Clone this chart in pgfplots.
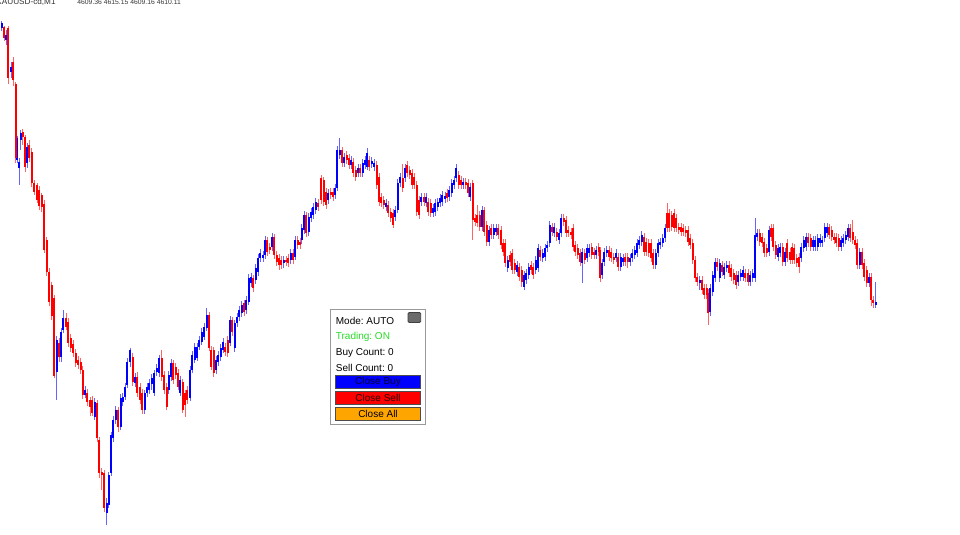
\documentclass[border=0pt]{standalone}
\usepackage{pgfplots}
\pgfplotsset{compat=1.18}
\usepackage{pgfplotstable}
\usepackage{fontspec}
\setmainfont{Liberation Sans}
\frenchspacing
\definecolor{bull}{RGB}{0,0,255}
\definecolor{bear}{RGB}{255,0,0}
\definecolor{bullw}{RGB}{100,100,255}
\definecolor{bearw}{RGB}{255,100,100}
\definecolor{ongreen}{RGB}{40,220,40}
\definecolor{btnorange}{RGB}{255,165,0}

% pixel-row prices (y grows downwards): x o h l c
\pgfplotstableread{
x o h l c
1.7 28 21 31 23
6 40 30 45 35
11 72 62 78 67
17.3 160 136 163 138
19 168 158 185 162
20.7 140 130 150 133
27.3 163 143 168 147
56.7 372 336 400 340
61 357 328 362 332
63.3 330 310 333 318
85 395 386 398 390
94.7 417 398 420 402
106.7 513 498 525 503
108.7 505 472 508 475
111 473 432 476 435
113.3 438 416 442 420
115.7 420 406 424 410
120.7 427 394 430 398
122.7 402 393 406 397
125 397 383 400 387
127.3 385 358 388 362
130 362 348 367 350
135 383 373 387 377
144.7 410 390 414 393
147 393 383 397 387
149.3 390 379 394 383
151.7 384 374 390 378
154 393 370 396 373
156.7 372 364 376 368
159 373 355 377 358
168.7 390 371 394 375
171 377 359 381 363
180.3 393 376 396 380
190 398 366 401 370
192.3 370 351 373 355
194.7 360 343 363 347
197 358 343 361 347
199.3 347 336 350 340
201.7 342 328 345 332
204 337 323 340 327
206.7 328 308 331 315
216 370 356 374 360
218.3 362 351 366 355
220.7 357 344 361 348
223 350 338 353 342
230 343 316 346 320
234.7 348 320 352 323
237 323 313 327 317
239.3 317 306 321 310
241.7 313 301 317 305
246.3 310 296 314 300
248.7 302 274 305 278
251 283 273 287 277
255.7 280 264 284 268
258 272 254 276 258
260.3 258 249 262 253
263 258 251 262 255
265 255 236 259 240
272 247 233 251 237
283.7 263 256 268 260
290.7 260 249 264 253
295.3 257 236 260 240
301.7 240 224 244 228
304 230 211 234 215
308.7 232 213 236 217
311 218 208 222 212
313.3 215 203 219 207
315.7 210 198 214 202
328.3 200 189 204 193
335.3 195 184 199 188
337.3 188 146 191 150
339.7 155 138 159 150
344.3 163 153 167 157
351 165 156 169 160
358 173 164 177 168
362.7 173 159 177 163
365 165 156 169 160
367.3 167 148 170 153
371.7 164 157 168 161
374 167 159 171 163
386 207 199 211 203
395.3 217 206 221 210
397.7 210 179 213 183
400 183 173 187 177
405 178 164 182 168
421.3 202 193 206 197
426 203 193 207 197
433 213 204 217 208
435.3 212 199 216 203
437.7 207 198 211 202
440 203 194 207 198
442.3 202 191 206 195
445 199 192 203 196
449.3 197 186 201 190
451.7 193 179 197 183
454 185 176 189 180
456.3 178 164 182 168
463.3 185 178 189 182
470.3 197 183 201 187
482 227 206 231 210
489 242 226 246 230
493.7 235 224 239 228
496 232 224 236 228
507.7 268 256 272 260
517 272 261 276 265
524 287 271 290 275
526.3 280 269 284 273
528.7 275 263 279 267
535.7 270 256 274 260
538 268 244 272 248
542.7 258 249 262 253
545 257 244 261 248
547.3 248 241 252 245
549.7 243 221 247 225
554.3 233 223 237 227
559 240 229 244 233
561.3 233 214 237 218
582.3 263 248 283 252
587 258 244 262 248
589.3 253 244 257 248
596.3 255 246 259 250
602 275 259 279 263
604.3 262 248 266 252
606.7 253 246 257 250
616 258 249 262 253
620.7 267 253 271 257
623 262 254 266 258
630 262 254 266 258
632.3 258 249 262 253
634.7 255 246 259 250
637 253 239 257 243
639.3 245 236 249 240
641.7 242 231 246 235
655.7 265 249 269 253
658 253 239 257 243
660.3 245 238 249 242
662.7 243 234 247 238
665 238 224 242 228
699.7 283 276 290 280
710.3 312 284 316 288
712.7 292 271 296 275
715 278 258 282 262
719.7 278 259 282 263
724.3 275 263 279 267
726.7 268 261 272 265
738.3 282 271 286 275
740.7 277 269 281 273
743 277 266 281 270
750.3 282 271 286 275
752.7 278 269 282 273
755 278 218 282 235
757.3 237 229 241 233
769 252 226 256 230
778 257 244 261 248
780.3 253 243 257 247
785 262 248 266 252
801.3 258 243 262 247
803.7 248 236 252 240
806 247 233 251 237
813 247 236 251 240
815.3 247 236 251 240
817.7 247 234 251 238
820 243 234 247 238
822.3 243 236 247 240
824.7 238 223 242 227
827 233 223 237 227
841 247 236 251 240
843.3 243 234 247 238
845.7 240 231 244 235
848 237 224 241 228
859.7 265 248 269 252
869 283 273 287 277
875.7 305 282 308 302
}\bulltab

\pgfplotstableread{
x o h l c
4 27 26 41 38
8.3 28 26 84 78
13.3 62 57 86 80
15.7 84 82 163 158
22.7 132 129 145 137
25 137 135 172 167
29.3 145 140 162 158
31.7 152 148 187 183
34.3 183 180 195 192
37.3 185 183 203 200
39.3 190 186 210 206
41.7 195 193 212 207
44 204 200 253 250
46.7 240 237 276 272
49 272 268 306 302
51.7 285 282 320 316
54 298 295 378 376
59 343 338 362 357
66 318 313 330 327
68.3 322 318 347 343
70.7 338 334 352 348
73.3 344 340 357 353
75.7 353 349 367 363
78.3 360 356 369 365
80.7 362 358 374 370
82.7 370 366 399 395
87.3 393 389 406 402
90 400 397 416 407
92.3 400 396 416 413
97 403 400 442 438
99.3 440 437 478 473
101.7 472 468 490 475
104 473 470 512 508
118.3 410 407 432 427
132.7 357 353 386 382
137.3 377 372 397 393
140 387 383 404 400
142.3 393 389 414 410
161.7 358 350 381 377
164 375 371 394 390
166.7 387 383 410 407
173.3 363 360 384 380
175.7 367 363 379 375
178 373 369 390 387
182.7 382 379 413 410
185 393 390 417 405
187.3 390 386 404 400
209 315 312 351 348
211.3 350 346 370 367
213.7 350 347 377 373
225.3 347 343 356 352
227.7 340 336 357 353
232.3 320 317 336 332
244 303 300 316 312
253.3 278 275 292 288
267.3 240 237 256 252
269.7 247 243 254 250
274.3 237 234 259 255
276.7 255 251 266 262
279 258 254 270 265
281.3 260 256 269 265
286 260 256 266 262
288.3 258 254 267 263
293 253 249 264 260
297.7 240 236 249 245
300 242 238 249 245
306.3 215 212 237 233
318 203 199 211 207
321.3 178 175 204 200
323.7 180 177 206 202
326 192 188 209 205
330.7 192 188 199 195
333 192 188 201 197
342 150 147 167 163
346.7 155 151 164 160
349 158 154 169 165
353.3 162 158 177 173
355.7 170 166 181 177
360.3 168 164 177 173
369.3 160 156 171 167
376.7 165 161 189 185
379 177 173 206 202
381.3 197 193 207 203
383.7 200 196 209 205
388.3 205 201 217 213
390.7 212 208 222 218
393 213 209 228 225
402.7 178 164 192 188
407.3 165 161 177 173
409.7 170 166 179 175
412 173 169 189 185
414.3 177 173 189 185
416.7 185 181 216 212
419 200 196 219 215
424 197 193 206 202
428.3 202 198 216 212
430.7 203 199 217 213
447 193 189 202 198
458.7 175 171 189 185
461 180 176 189 185
465.7 182 178 189 185
468 183 179 197 193
472.7 183 180 240 220
475 218 214 226 222
477.3 215 205 227 223
479.7 215 211 231 227
484.3 210 207 236 232
486.7 225 221 246 242
491.3 228 224 239 235
498.3 228 224 239 235
501 230 226 249 245
503 243 239 256 252
505.3 243 239 267 263
510 255 251 266 262
512.3 253 249 274 270
514.7 263 259 274 270
519.3 267 263 281 277
521.7 270 266 287 282
531 265 261 274 270
533.3 267 263 279 275
540.3 250 246 261 257
552 227 223 236 232
556.7 232 228 241 237
563.7 218 214 226 222
566 220 216 237 233
568.3 230 226 237 233
571 232 228 239 235
573 228 224 251 247
575.3 245 241 256 252
577.7 248 244 259 255
580 253 249 266 262
584.7 253 249 264 260
591.7 247 243 259 255
594 252 248 259 255
598.7 247 243 256 252
600 250 247 282 278
609 250 246 261 257
611.3 252 248 262 258
613.7 257 253 264 260
618.3 257 253 271 267
625.3 257 253 266 262
627.7 257 253 268 262
644 237 233 256 252
646.3 242 238 256 252
648.7 243 239 257 253
651 243 239 262 258
653.3 253 249 269 265
667 213 203 232 228
669.3 213 209 232 228
671.7 215 211 231 227
674 213 209 232 228
676.3 218 214 232 228
678.7 227 223 234 230
681 227 223 236 232
683.3 228 224 236 232
685.7 230 226 237 233
688 230 226 246 242
690.3 238 234 249 245
692.7 243 239 264 260
695 260 256 282 278
697.3 277 273 286 282
702 280 276 294 290
704.3 288 284 299 295
706.7 288 284 299 295
708.3 293 289 325 313
717.3 262 258 271 267
722 265 261 276 272
729 265 261 277 273
731.3 268 264 281 277
733.7 273 269 284 280
736 275 271 289 285
745.3 273 269 282 278
748 273 269 286 282
759.7 233 229 246 242
762 237 233 247 243
764.3 242 238 257 253
766.7 248 244 257 253
771.3 228 224 241 237
773.3 228 224 251 247
775.7 245 241 259 255
782.7 247 243 266 262
787.3 243 239 262 258
790 252 248 264 260
792 247 243 264 260
794.3 248 244 264 260
796.7 258 254 267 263
799 257 253 273 267
808.3 237 233 247 243
810.7 238 234 251 247
829.3 227 224 239 235
831.7 230 226 241 237
834 237 233 244 240
836.3 237 233 247 243
838.7 238 234 251 247
850.3 228 224 242 238
852.7 232 220 244 240
855 240 236 249 245
857.3 243 239 269 265
862 252 248 269 265
864.3 263 259 281 277
866.7 270 266 287 283
871.3 277 273 306 300
873.3 300 296 308 303
}\beartab

\pgfplotsset{
  candle/.style 2 args={draw=none, mark=none, forget plot,
    error bars/.cd, y dir=both, y explicit, error mark=none,
    error bar style={line width=#1, draw=#2}},
}

\begin{document}
\begin{tikzpicture}
\begin{axis}[at={(0,0)}, anchor=south west, scale only axis,
  width=480pt, height=267.5pt,
  xmin=0, xmax=960, ymin=0, ymax=535, y dir=reverse,
  hide axis, clip=false]
% wicks
\addplot[candle={0.45pt}{bullw}]
  table[x=x, y expr={(\thisrow{h}+\thisrow{l})/2}, y error expr={(\thisrow{l}-\thisrow{h})/2}] {\bulltab};
\addplot[candle={0.45pt}{bearw}]
  table[x=x, y expr={(\thisrow{h}+\thisrow{l})/2}, y error expr={(\thisrow{l}-\thisrow{h})/2}] {\beartab};
% bodies
\addplot[candle={0.95pt}{bull}]
  table[x=x, y expr={(\thisrow{o}+\thisrow{c})/2}, y error expr={abs(\thisrow{o}-\thisrow{c})/2}] {\bulltab};
\addplot[candle={0.95pt}{bear}]
  table[x=x, y expr={(\thisrow{o}+\thisrow{c})/2}, y error expr={abs(\thisrow{o}-\thisrow{c})/2}] {\beartab};

% header text
\node[anchor=base west, inner sep=0, text=black!80, font=\fontsize{4.1}{5}\selectfont] at (axis cs:-4,4.2) {XAUUSD-cd,M1};
\node[anchor=base west, inner sep=0, text=black!80, font=\fontsize{3.4}{5}\selectfont] at (axis cs:77,4.2) {4609.36 4615.15 4609.16 4610.11};

% control panel
\draw[draw=black!40, line width=0.5pt, fill=white] (axis cs:330.7,310) rectangle (axis cs:425.5,424.5);
\draw[draw=black!75, fill=black!58, line width=0.4pt, rounded corners=0.6pt] (axis cs:408,312.5) rectangle (axis cs:420.7,322.5);
\begin{scope}[every node/.style={anchor=west, inner sep=0, font=\fontsize{5}{6}\selectfont}]
\node at (axis cs:335.5,320.7) {Mode: AUTO};
\node[text=ongreen] at (axis cs:335.5,337.3) {Trading: ON};
\node at (axis cs:335.5,352.7) {Buy Count: 0};
\node at (axis cs:335.5,367.7) {Sell Count: 0};
\end{scope}
\draw[draw=black!70, fill=bull, line width=0.4pt] (axis cs:335,375.7) rectangle (axis cs:420.7,388.5);
\draw[draw=black!70, fill=bear, line width=0.4pt] (axis cs:335,391.7) rectangle (axis cs:420.7,404.5);
\draw[draw=black!70, fill=btnorange, line width=0.4pt] (axis cs:335,407.7) rectangle (axis cs:420.7,420.2);
\begin{scope}[every node/.style={anchor=center, inner sep=0, font=\fontsize{5}{6}\selectfont}]
\node[text=black!80!blue] at (axis cs:378,382.3) {Close Buy};
\node[text=black!85!red] at (axis cs:378,398.3) {Close Sell};
\node[text=black] at (axis cs:378,414) {Close All};
\end{scope}
\end{axis}
\pgfresetboundingbox
\useasboundingbox (0,0) rectangle (480pt,267.5pt);
\end{tikzpicture}
\end{document}
